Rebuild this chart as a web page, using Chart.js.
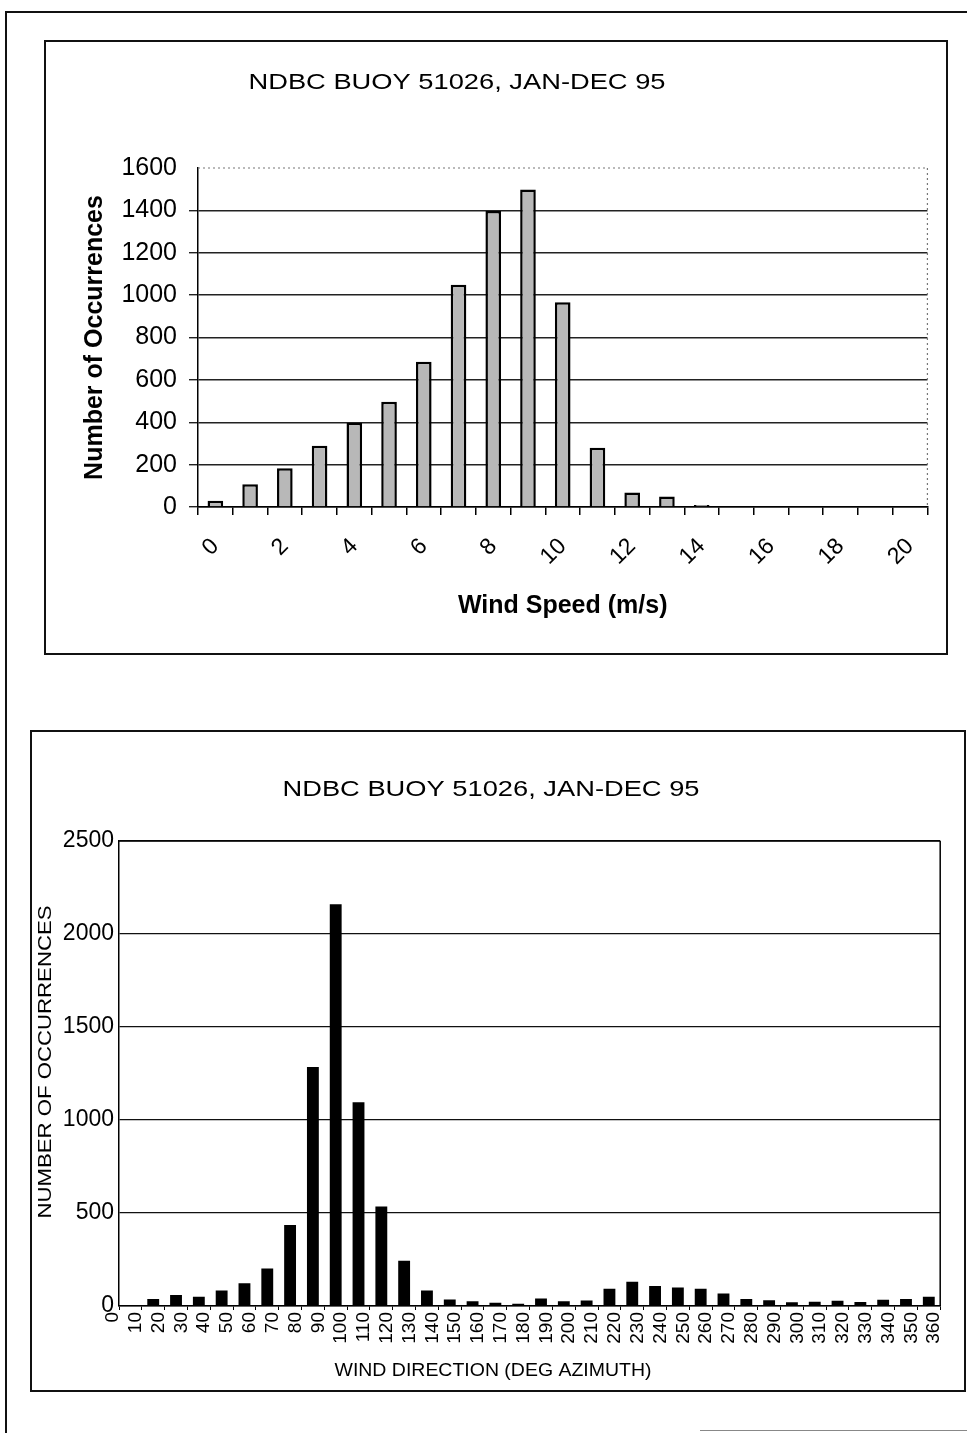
<!DOCTYPE html>
<html>
<head>
<meta charset="utf-8">
<script src="https://cdn.jsdelivr.net/npm/chart.js@4.4.1/dist/chart.umd.min.js"></script>
<style>
  body { margin: 0; background: #fff; width: 967px; height: 1433px; position: relative; overflow: hidden; }
  .box { position: absolute; border: 2px solid #111; box-sizing: border-box; }
  .rule { position: absolute; background: #111; }
  canvas { position: absolute; }
</style>
</head>
<body>
<div class="rule" style="left:5px;top:11px;width:2px;height:1422px"></div>
<div class="rule" style="left:5px;top:11px;width:962px;height:2px"></div>
<div class="rule" style="left:700px;top:1430px;width:267px;height:1px;background:#888"></div>

<div class="box" style="left:44px;top:40px;width:904px;height:615px"></div>
<canvas id="speedChart" width="904" height="615" style="left:44px;top:40px"></canvas>

<div class="box" style="left:30px;top:730px;width:936px;height:662px"></div>
<canvas id="dirChart" width="935" height="662" style="left:30px;top:730px"></canvas>

<script>
// wind speed histogram (m/s bins)
const speedCategories = ['0','1','2','3','4','5','6','7','8','9','10','11','12','13','14','15','16','17','18','19','20'];
const speedCounts = [30, 107, 183, 289, 398, 497, 686, 1049, 1397, 1499, 966, 280, 69, 49, 10, 0, 0, 0, 0, 0, 0];
const speedTickLabels = ['0','2','4','6','8','10','12','14','16','18','20'];
const speedYTicks = [0, 200, 400, 600, 800, 1000, 1200, 1400, 1600];

// wind direction histogram (10 deg bins, lower edge)
const dirBins = [0,10,20,30,40,50,60,70,80,90,100,110,120,130,140,150,160,170,180,190,200,210,220,230,240,250,260,270,280,290,300,310,320,330,340,350];
const dirCounts = [0, 38, 59, 50, 84, 122, 202, 435, 1285, 2160, 1095, 535, 243, 84, 35, 26, 17, 12, 40, 25, 30, 93, 130, 107, 99, 93, 67, 38, 31, 20, 23, 28, 21, 33, 37, 50];
const dirTickLabels = [0,10,20,30,40,50,60,70,80,90,100,110,120,130,140,150,160,170,180,190,200,210,220,230,240,250,260,270,280,290,300,310,320,330,340,350,360];
const dirYTicks = [0, 500, 1000, 1500, 2000, 2500];

const titleText = 'NDBC BUOY 51026, JAN-DEC 95';

Chart.defaults.font.family = "'Liberation Sans', Arial, sans-serif";
Chart.defaults.color = '#000';

// text drawn stretched to a given width (scanned font is wide)
const extraText = {
  id: 'extraText',
  afterDraw(chart, args, opts) {
    const ctx = chart.ctx;
    (opts.items || []).forEach(it => {
      ctx.save();
      ctx.font = it.font;
      ctx.fillStyle = '#000';
      ctx.textAlign = 'center';
      ctx.textBaseline = 'middle';
      ctx.translate(it.x, it.y);
      if (it.rotate) ctx.rotate(it.rotate);
      const w = ctx.measureText(it.text).width;
      ctx.scale(it.width / w, 1);
      ctx.fillText(it.text, 0, 0);
      ctx.restore();
    });
  }
};

const frame = {
  id: 'frame',
  beforeDatasetsDraw(chart, args, opts) {
    const {ctx, chartArea: a} = chart;
    ctx.save();
    ctx.strokeStyle = opts.color;
    ctx.lineWidth = opts.width;
    ctx.setLineDash(opts.dash || []);
    ctx.beginPath();
    (opts.sides || []).forEach(s => {
      if (s === 'top') { ctx.moveTo(a.left, a.top); ctx.lineTo(a.right, a.top); }
      if (s === 'right') { ctx.moveTo(a.right, a.top); ctx.lineTo(a.right, a.bottom); }
    });
    ctx.stroke();
    ctx.restore();
  }
};

new Chart(document.getElementById('speedChart'), {
  type: 'bar',
  data: {
    labels: speedCategories,
    datasets: [{
      data: speedCounts,
      backgroundColor: '#b8b8b8',
      borderColor: '#000',
      borderWidth: 2.5,
      barPercentage: 0.45,
      categoryPercentage: 1.0
    }]
  },
  plugins: [extraText, frame],
  options: {
    responsive: false,
    animation: false,
    layout: { padding: { top: 128, right: 18, left: 0, bottom: 0 } },
    plugins: {
      legend: { display: false },
      tooltip: { enabled: false },
      extraText: { items: [
        { text: titleText, x: 413, y: 43, width: 417, font: "22px 'Liberation Sans'" }
      ] },
      frame: { sides: ['top', 'right'], color: '#777', width: 1.2, dash: [2, 3] }
    },
    scales: {
      x: {
        grid: { drawOnChartArea: false, color: '#000', tickLength: 8, lineWidth: 1.5 },
        border: { color: '#000', width: 1.5 },
        ticks: {
          autoSkip: false, maxRotation: 45, minRotation: 45, padding: 18,
          font: { size: 23 },
          callback: function (value) {
            const lab = this.getLabelForValue(value);
            return speedTickLabels.includes(lab) ? lab : '';
          }
        },
        title: { display: true, text: 'Wind Speed (m/s)', font: { size: 25, weight: 'bold' }, padding: { top: 0, bottom: 34 } },
        afterFit: s => { s.height = 148; }
      },
      y: {
        min: 0, max: 1600,
        afterBuildTicks: s => { s.ticks = speedYTicks.map(v => ({ value: v })); },
        grid: {
          color: c => (c.tick && c.tick.value === 1600) ? 'rgba(0,0,0,0)' : '#222',
          lineWidth: 1.4, tickLength: 9
        },
        border: { color: '#000', width: 1.5 },
        ticks: { font: { size: 25 }, padding: 12, callback: v => String(v) },
        title: { display: true, text: 'Number of Occurrences', font: { size: 25, weight: 'bold' }, padding: { top: 36, bottom: 0 } },
        afterFit: s => { s.width = 154; }
      }
    }
  }
});

new Chart(document.getElementById('dirChart'), {
  type: 'bar',
  data: {
    datasets: [{
      data: dirBins.map((b, i) => ({ x: b + 5, y: dirCounts[i] })),
      backgroundColor: '#000',
      borderWidth: 0,
      barPercentage: 0.52,
      categoryPercentage: 1.0
    }]
  },
  plugins: [extraText, frame],
  options: {
    responsive: false,
    animation: false,
    layout: { padding: { top: 111, right: 17, left: 0, bottom: 0 } },
    plugins: {
      legend: { display: false },
      tooltip: { enabled: false },
      extraText: { items: [
        { text: titleText, x: 461, y: 60, width: 417, font: "22px 'Liberation Sans'" },
        { text: 'WIND DIRECTION (DEG AZIMUTH)', x: 463, y: 641, width: 317, font: "18px 'Liberation Sans'" },
        { text: 'NUMBER OF OCCURRENCES', x: 16, y: 332, width: 313, font: "18px 'Liberation Sans'", rotate: -Math.PI / 2 }
      ] },
      frame: { sides: ['top', 'right'], color: '#000', width: 1.5 }
    },
    scales: {
      x: {
        type: 'linear', min: 0, max: 360, offset: false,
        afterBuildTicks: s => { s.ticks = dirTickLabels.map(v => ({ value: v })); },
        grid: { drawOnChartArea: false, offset: false, color: '#000', tickLength: 4, lineWidth: 1 },
        border: { color: '#000', width: 1.5 },
        ticks: { autoSkip: false, maxRotation: 90, minRotation: 90, padding: 2, labelOffset: -6, font: { size: 19 } },
        afterFit: s => { s.height = 86; }
      },
      y: {
        min: 0, max: 2500,
        afterBuildTicks: s => { s.ticks = dirYTicks.map(v => ({ value: v })); },
        grid: { color: '#111', lineWidth: 1.3, drawTicks: false },
        border: { color: '#000', width: 1.5 },
        ticks: { font: { size: 23 }, padding: 5, callback: v => String(v) },
        afterFit: s => { s.width = 89; }
      }
    }
  }
});
</script>
</body>
</html>
